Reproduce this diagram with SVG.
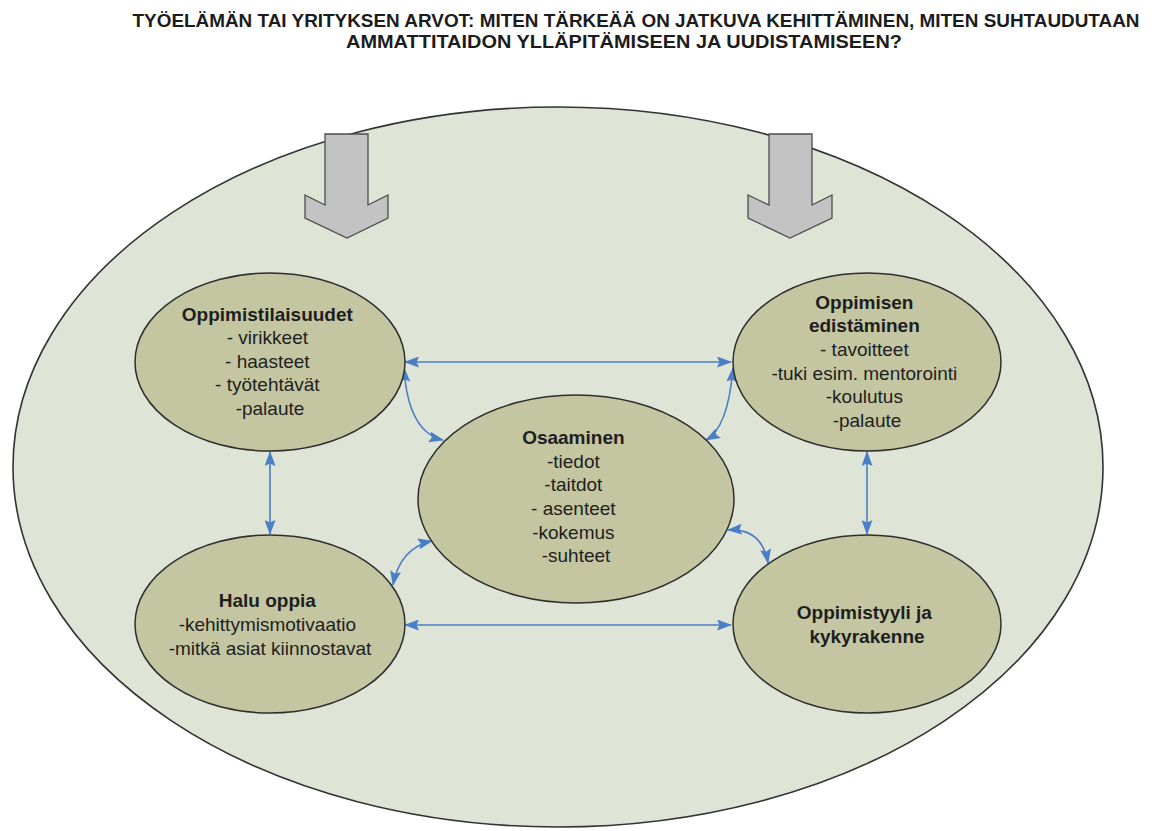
<svg xmlns="http://www.w3.org/2000/svg" width="1157" height="831" viewBox="0 0 1157 831">
  <defs>
    <style>
      .title { font-family: "Liberation Sans", Arial, sans-serif; font-size: 19px; font-weight: bold; fill: #1c1c1c; text-anchor: middle; }
      .lbl { font-family: "Liberation Sans", Arial, sans-serif; font-size: 19px; fill: #1e1e1e; text-anchor: middle; }
      .lbl .h { font-weight: bold; }
      .bubble { fill: #c4c6a2; stroke: #2e2e2e; stroke-width: 1.5; }
      .field { fill: #dfe5d6; stroke: #333333; stroke-width: 1.6; }
      .influx { fill: #c3c3c3; stroke: #4d4d4d; stroke-width: 1.3; stroke-linejoin: miter; }
      .link { fill: none; stroke: #4a7ec6; stroke-width: 1.6; marker-start: url(#ah); marker-end: url(#ah); }
    </style>
    <marker id="ah" viewBox="0 0 15 11" refX="14" refY="5.5" markerWidth="15" markerHeight="11" markerUnits="userSpaceOnUse" orient="auto-start-reverse">
      <path d="M0,0 L15,5.5 L0,11 L2.5,5.5 z" fill="#4a7ec6"/>
    </marker>
  </defs>

  <rect x="0" y="0" width="1157" height="831" fill="#ffffff"/>

  <!-- heading -->
  <g id="heading">
    <text class="title" x="636" y="27" textLength="1007" lengthAdjust="spacingAndGlyphs">TYÖELÄMÄN TAI YRITYKSEN ARVOT: MITEN TÄRKEÄÄ ON JATKUVA KEHITTÄMINEN, MITEN SUHTAUDUTAAN</text>
    <text class="title" x="624" y="48" textLength="556" lengthAdjust="spacingAndGlyphs">AMMATTITAIDON YLLÄPITÄMISEEN JA UUDISTAMISEEN?</text>
  </g>

  <!-- surrounding working-life field -->
  <g id="field">
    <ellipse class="field" cx="558" cy="467" rx="545" ry="360"/>
  </g>

  <!-- incoming value arrows -->
  <g id="influx-left">
    <polygon class="influx" points="325,134 368,134 368,205 388,195 388,218 347,238 305,218 305,195 325,205"/>
  </g>
  <g id="influx-right">
    <polygon class="influx" points="769,134 812,134 812,205 832,195 832,218 790,238 748,218 748,195 769,205"/>
  </g>

  <!-- connectors -->
  <g id="connectors">
    <path class="link" d="M405,362 L731,362"/>
    <path class="link" d="M405,625 L731,625"/>
    <path class="link" d="M270,452 L270,534"/>
    <path class="link" d="M867,452 L867,534"/>
    <path class="link" d="M404,368 Q408,432 443,440"/>
    <path class="link" d="M733,368 Q728,428 706,440"/>
    <path class="link" d="M432,541 Q400,548 393,585"/>
    <path class="link" d="M728,530 Q762,528 768,563"/>
  </g>

  <!-- nodes -->
  <g id="oppimistilaisuudet">
    <ellipse class="bubble" cx="270" cy="362" rx="135" ry="89"/>
    <text class="lbl" x="270">
      <tspan class="h" x="270" y="321">Oppimistilaisuudet</tspan>
      <tspan x="270" y="344">- virikkeet</tspan>
      <tspan x="270" y="368">- haasteet</tspan>
      <tspan x="270" y="391">- työtehtävät</tspan>
      <tspan x="270" y="415">-palaute</tspan>
    </text>
  </g>

  <g id="oppimisen-edistaminen">
    <ellipse class="bubble" cx="867" cy="362" rx="134" ry="89"/>
    <text class="lbl" x="867">
      <tspan class="h" x="867" y="309">Oppimisen</tspan>
      <tspan class="h" x="867" y="332">edistäminen</tspan>
      <tspan x="867" y="356">- tavoitteet</tspan>
      <tspan x="867" y="380">-tuki esim. mentorointi</tspan>
      <tspan x="867" y="403">-koulutus</tspan>
      <tspan x="867" y="427">-palaute</tspan>
    </text>
  </g>

  <g id="osaaminen">
    <ellipse class="bubble" cx="576" cy="499" rx="158" ry="104"/>
    <text class="lbl" x="576">
      <tspan class="h" x="576" y="444">Osaaminen</tspan>
      <tspan x="576" y="468">-tiedot</tspan>
      <tspan x="576" y="491">-taitdot</tspan>
      <tspan x="576" y="515">- asenteet</tspan>
      <tspan x="576" y="539">-kokemus</tspan>
      <tspan x="576" y="562">-suhteet</tspan>
    </text>
  </g>

  <g id="halu-oppia">
    <ellipse class="bubble" cx="270" cy="624" rx="135" ry="89"/>
    <text class="lbl" x="270">
      <tspan class="h" x="270" y="607">Halu oppia</tspan>
      <tspan x="270" y="631">-kehittymismotivaatio</tspan>
      <tspan x="270" y="655">-mitkä asiat kiinnostavat</tspan>
    </text>
  </g>

  <g id="oppimistyyli">
    <ellipse class="bubble" cx="867" cy="624" rx="134" ry="89"/>
    <text class="lbl" x="867">
      <tspan class="h" x="867" y="619">Oppimistyyli ja</tspan>
      <tspan class="h" x="867" y="643">kykyrakenne</tspan>
    </text>
  </g>
</svg>
